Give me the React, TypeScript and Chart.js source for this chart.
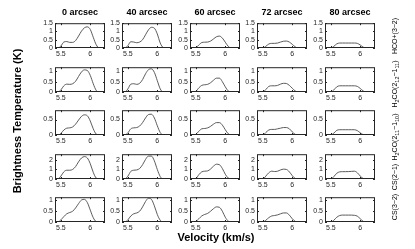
import React, { useEffect, useRef } from "react";
import { Chart, registerables } from "chart.js";

Chart.register(...registerables);

// ---------------- DATA ----------------
const COLUMN_TITLES = ["0 arcsec", "40 arcsec", "60 arcsec", "72 arcsec", "80 arcsec"];

const VELOCITY = [5.40, 5.45, 5.50, 5.55, 5.60, 5.65, 5.70, 5.75, 5.80, 5.85, 5.90, 5.95, 6.00, 6.05, 6.10, 6.15, 6.20, 6.25];

const X_TICKS = [5.5, 6];
const X_TICK_LABELS = ["5.5", "6"];

// HCO+(3-2)
const hco_0 = [0, 0, 0.12, 0.36, 0.39, 0.34, 0.34, 0.45, 0.72, 1.02, 1.22, 1.28, 1.12, 0.65, 0.2, 0, 0, 0];
const hco_40 = [0, 0, 0.15, 0.38, 0.36, 0.32, 0.36, 0.5, 0.8, 1.1, 1.25, 1.2, 0.85, 0.3, 0.03, 0, 0, 0];
const hco_60 = [0, 0, 0.02, 0.18, 0.33, 0.35, 0.36, 0.42, 0.55, 0.68, 0.72, 0.6, 0.35, 0.1, 0, 0, 0, 0];
const hco_72 = [0, 0, 0, 0.1, 0.24, 0.28, 0.28, 0.3, 0.36, 0.41, 0.42, 0.36, 0.22, 0.07, 0, 0, 0, 0];
const hco_80 = [0, 0, 0, 0.1, 0.25, 0.3, 0.3, 0.3, 0.3, 0.3, 0.3, 0.28, 0.18, 0.05, 0, 0, 0, 0];

// H2CO(2_12-1_11)
const h2co212_0 = [0, 0, 0.1, 0.3, 0.38, 0.37, 0.4, 0.52, 0.75, 0.97, 1.07, 1.04, 0.8, 0.4, 0.08, 0, 0, 0];
const h2co212_40 = [0, 0, 0.15, 0.38, 0.4, 0.37, 0.42, 0.6, 0.88, 1.08, 1.12, 0.95, 0.55, 0.15, 0, 0, 0, 0];
const h2co212_60 = [0, 0, 0.03, 0.2, 0.32, 0.35, 0.37, 0.45, 0.57, 0.67, 0.67, 0.5, 0.25, 0.05, 0, 0, 0, 0];
const h2co212_72 = [0, 0, 0, 0.12, 0.27, 0.3, 0.3, 0.32, 0.38, 0.42, 0.41, 0.32, 0.18, 0.05, 0, 0, 0, 0];
const h2co212_80 = [0, 0, 0, 0.1, 0.25, 0.3, 0.3, 0.3, 0.3, 0.3, 0.3, 0.27, 0.17, 0.05, 0, 0, 0, 0];

// H2CO(2_11-1_10)
const h2co211_0 = [0, 0, 0.05, 0.16, 0.22, 0.23, 0.26, 0.35, 0.48, 0.6, 0.65, 0.62, 0.45, 0.2, 0.03, 0, 0, 0];
const h2co211_40 = [0, 0, 0.07, 0.2, 0.23, 0.24, 0.29, 0.4, 0.55, 0.66, 0.67, 0.55, 0.3, 0.08, 0, 0, 0, 0];
const h2co211_60 = [0, 0, 0.02, 0.12, 0.2, 0.21, 0.23, 0.28, 0.35, 0.4, 0.4, 0.32, 0.17, 0.04, 0, 0, 0, 0];
const h2co211_72 = [0, 0, 0, 0.08, 0.16, 0.18, 0.18, 0.2, 0.22, 0.24, 0.24, 0.2, 0.1, 0.02, 0, 0, 0, 0];
const h2co211_80 = [0, 0, 0, 0.06, 0.15, 0.17, 0.17, 0.17, 0.17, 0.17, 0.17, 0.14, 0.07, 0.01, 0, 0, 0, 0];

// CS(2-1)
const cs21_0 = [0, 0, 0.3, 0.75, 0.92, 0.92, 1.0, 1.3, 1.8, 2.2, 2.35, 2.2, 1.6, 0.7, 0.1, 0, 0, 0];
const cs21_40 = [0, 0, 0.3, 0.8, 0.92, 0.95, 1.1, 1.5, 2.05, 2.4, 2.4, 1.9, 1.0, 0.25, 0, 0, 0, 0];
const cs21_60 = [0, 0, 0.05, 0.45, 0.75, 0.82, 0.85, 1.05, 1.35, 1.55, 1.5, 1.1, 0.5, 0.1, 0, 0, 0, 0];
const cs21_72 = [0, 0, 0, 0.3, 0.65, 0.82, 0.78, 0.82, 0.95, 1.03, 1.0, 0.75, 0.35, 0.05, 0, 0, 0, 0];
const cs21_80 = [0, 0, 0, 0.25, 0.6, 0.75, 0.77, 0.77, 0.78, 0.8, 0.82, 0.65, 0.3, 0.05, 0, 0, 0, 0];

// CS(3-2)
const cs32_0 = [0, 0, 0.1, 0.25, 0.38, 0.44, 0.5, 0.65, 0.85, 1.02, 1.05, 0.9, 0.55, 0.2, 0.02, 0, 0, 0];
const cs32_40 = [0, 0, 0.1, 0.28, 0.38, 0.42, 0.5, 0.7, 0.95, 1.1, 1.05, 0.75, 0.35, 0.08, 0, 0, 0, 0];
const cs32_60 = [0, 0, 0.03, 0.15, 0.28, 0.35, 0.4, 0.5, 0.62, 0.7, 0.68, 0.5, 0.22, 0.04, 0, 0, 0, 0];
const cs32_72 = [0, 0, 0, 0.08, 0.2, 0.28, 0.3, 0.33, 0.38, 0.42, 0.42, 0.32, 0.15, 0.03, 0, 0, 0, 0];
const cs32_80 = [0, 0, 0, 0.08, 0.22, 0.3, 0.32, 0.32, 0.32, 0.32, 0.31, 0.27, 0.15, 0.03, 0, 0, 0, 0];

// y-axis limits and ticks per row
const ROW_YMAX = [1.5, 1.2, 0.8, 2.6, 1.15];
const ROW_Y_TICKS = [[0, 0.5, 1, 1.5], [0, 0.5, 1], [0, 0.5], [0, 1, 2], [0, 0.5, 1]];
const ROW_Y_TICK_LABELS = [["0", "0.5", "1", "1.5"], ["0", "0.5", "1"], ["0", "0.5"], ["0", "1", "2"], ["0", "0.5", "1"]];

const ROW_SERIES = [
  [hco_0, hco_40, hco_60, hco_72, hco_80],
  [h2co212_0, h2co212_40, h2co212_60, h2co212_72, h2co212_80],
  [h2co211_0, h2co211_40, h2co211_60, h2co211_72, h2co211_80],
  [cs21_0, cs21_40, cs21_60, cs21_72, cs21_80],
  [cs32_0, cs32_40, cs32_60, cs32_72, cs32_80],
];

// ---------------- LAYOUT ----------------
const FONT = "'Liberation Sans', Arial, Helvetica, sans-serif";
const COL_LEFT = [55, 122, 190, 257, 325];
const ROW_TOP = [20, 64, 107, 151, 194];
const PLOT_W = 50;
const PLOT_H = 28;
const Y_AXIS_W = 20;
const X_AXIS_H = 12;
const PAD_TOP = 3;
const PAD_RIGHT = 4;
const AXIS_COLOR = "#262626";

const boxPlugin = {
  id: "matlabBox",
  afterDraw(chart: any) {
    const { ctx, chartArea } = chart;
    const { left, top, right, bottom } = chartArea;
    ctx.save();
    ctx.strokeStyle = AXIS_COLOR;
    ctx.lineWidth = 1;
    ctx.strokeRect(left + 0.5, top + 0.5, right - left - 1, bottom - top - 1);
    const xs = chart.scales.x;
    const ys = chart.scales.y;
    ctx.beginPath();
    xs.ticks.forEach((t: any) => {
      const px = Math.round(xs.getPixelForValue(t.value)) + 0.5;
      ctx.moveTo(px, bottom);
      ctx.lineTo(px, bottom - 2);
      ctx.moveTo(px, top);
      ctx.lineTo(px, top + 2);
    });
    ys.ticks.forEach((t: any) => {
      const py = Math.round(ys.getPixelForValue(t.value)) + 0.5;
      ctx.moveTo(left, py);
      ctx.lineTo(left + 2, py);
      ctx.moveTo(right, py);
      ctx.lineTo(right - 2, py);
    });
    ctx.stroke();
    ctx.restore();
  },
};

function RowLabel({ children, cy }: { children: React.ReactNode; cy: number }) {
  return (
    <div
      style={{
        position: "absolute",
        left: 394,
        top: cy,
        transform: "translate(-50%, -50%) rotate(-90deg)",
        whiteSpace: "nowrap",
        fontFamily: FONT,
        fontSize: 7,
        lineHeight: "9px",
        color: "#000",
      }}
    >
      {children}
    </div>
  );
}

const subStyle: React.CSSProperties = { fontSize: 5.5, verticalAlign: "-2px", lineHeight: 0 };

export default function App() {
  const refs = useRef<(HTMLCanvasElement | null)[]>([]);

  useEffect(() => {
    document.body.style.margin = "0";
    Chart.defaults.font.family = FONT;
    const charts: Chart[] = [];
    ROW_SERIES.forEach((row, r) => {
      row.forEach((vals, c) => {
        const canvas = refs.current[r * 5 + c];
        if (!canvas) return;
        const yTicks = ROW_Y_TICKS[r];
        const yLabels = ROW_Y_TICK_LABELS[r];
        const chart = new Chart(canvas, {
          type: "line",
          data: {
            datasets: [
              {
                data: VELOCITY.map((v, i) => ({ x: v, y: vals[i] })),
                borderColor: "#4a4a4a",
                borderWidth: 0.9,
                pointRadius: 0,
                cubicInterpolationMode: "monotone",
                fill: false,
              },
            ],
          },
          options: {
            animation: false,
            responsive: false,
            devicePixelRatio: 1,
            events: [],
            layout: { padding: { top: PAD_TOP, right: PAD_RIGHT, left: 0, bottom: 0 } },
            plugins: { legend: { display: false }, tooltip: { enabled: false } },
            scales: {
              x: {
                type: "linear",
                min: 5.4,
                max: 6.25,
                afterFit: (s: any) => {
                  s.height = X_AXIS_H;
                },
                afterBuildTicks: (s: any) => {
                  s.ticks = X_TICKS.map((v) => ({ value: v }));
                },
                ticks: {
                  callback: (v: any) => X_TICK_LABELS[X_TICKS.indexOf(Number(v))],
                  padding: 2,
                  maxRotation: 0,
                  autoSkip: false,
                  font: { size: 7, family: FONT },
                  color: AXIS_COLOR,
                },
                grid: { display: false, drawTicks: false },
                border: { display: false },
              },
              y: {
                type: "linear",
                min: 0,
                max: ROW_YMAX[r],
                afterFit: (s: any) => {
                  s.width = Y_AXIS_W;
                },
                afterBuildTicks: (s: any) => {
                  s.ticks = yTicks.map((v) => ({ value: v }));
                },
                ticks: {
                  callback: (v: any) => yLabels[yTicks.indexOf(Number(v))],
                  padding: 2,
                  autoSkip: false,
                  font: { size: 7, family: FONT },
                  color: AXIS_COLOR,
                },
                grid: { display: false, drawTicks: false },
                border: { display: false },
              },
            },
          },
          plugins: [boxPlugin],
        } as any);
        charts.push(chart);
      });
    });
    return () => charts.forEach((ch) => ch.destroy());
  }, []);

  const canvases: React.ReactNode[] = [];
  ROW_SERIES.forEach((row, r) => {
    row.forEach((_, c) => {
      const w = Y_AXIS_W + PLOT_W + PAD_RIGHT;
      const h = PAD_TOP + PLOT_H + X_AXIS_H;
      canvases.push(
        <canvas
          key={`${r}-${c}`}
          ref={(el) => {
            refs.current[r * 5 + c] = el;
          }}
          width={w}
          height={h}
          style={{
            position: "absolute",
            left: COL_LEFT[c] - Y_AXIS_W,
            top: ROW_TOP[r] - PAD_TOP,
            width: w,
            height: h,
          }}
        />
      );
    });
  });

  return (
    <div
      style={{
        position: "fixed",
        left: 0,
        top: 0,
        width: 415,
        height: 249,
        background: "#fff",
        overflow: "hidden",
        fontFamily: FONT,
      }}
    >
      {canvases}
      {COLUMN_TITLES.map((t, c) => (
        <div
          key={t}
          style={{
            position: "absolute",
            left: COL_LEFT[c] - 10,
            width: PLOT_W + 20,
            top: 7,
            textAlign: "center",
            fontSize: 9,
            fontWeight: "bold",
            lineHeight: "10px",
            color: "#000",
            whiteSpace: "nowrap",
          }}
        >
          {t}
        </div>
      ))}
      <div
        style={{
          position: "absolute",
          left: 216,
          top: 237,
          transform: "translate(-50%, -50%)",
          fontSize: 11,
          fontWeight: "bold",
          lineHeight: "12px",
          whiteSpace: "nowrap",
          color: "#000",
        }}
      >
        Velocity (km/s)
      </div>
      <div
        style={{
          position: "absolute",
          left: 17,
          top: 121,
          transform: "translate(-50%, -50%) rotate(-90deg)",
          fontSize: 11,
          fontWeight: "bold",
          lineHeight: "12px",
          whiteSpace: "nowrap",
          color: "#000",
        }}
      >
        Brightness Temperature (K)
      </div>
      <RowLabel cy={36}>HCO+(3−2)</RowLabel>
      <RowLabel cy={84}>
        H<span style={subStyle}>2</span>CO(2<span style={subStyle}>12</span>−1<span style={subStyle}>11</span>)
      </RowLabel>
      <RowLabel cy={137}>
        H<span style={subStyle}>2</span>CO(2<span style={subStyle}>11</span>−1<span style={subStyle}>10</span>)
      </RowLabel>
      <RowLabel cy={177}>CS(2−1)</RowLabel>
      <RowLabel cy={207}>CS(3−2)</RowLabel>
    </div>
  );
}
